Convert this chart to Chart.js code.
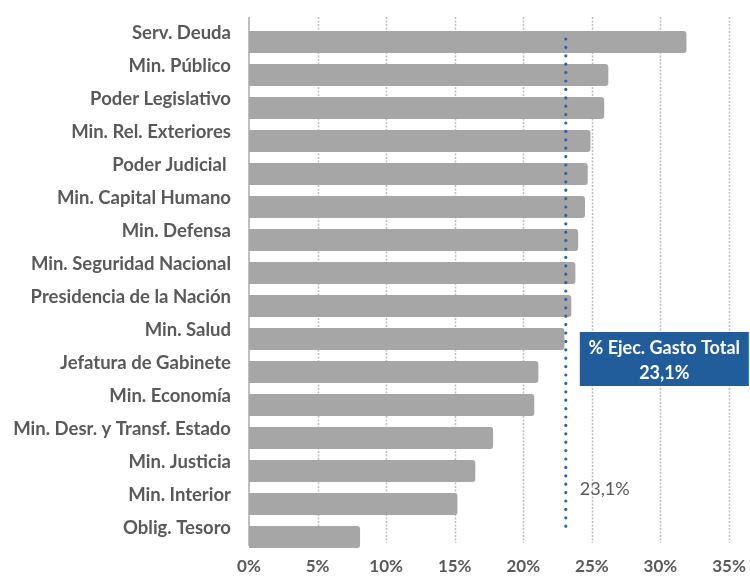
<!DOCTYPE html>
<html>
<head>
<meta charset="utf-8">
<script src="https://cdn.jsdelivr.net/npm/chart.js@4"></script>
<style>
html,body{margin:0;padding:0;background:#fff;}
#wrap{width:750px;height:579px;position:relative;}
</style>
</head>
<body>
<div id="wrap"><canvas id="c" width="750" height="579"></canvas></div>
<script>
const categories = [
  "Serv. Deuda","Min. Público","Poder Legislativo","Min. Rel. Exteriores","Poder Judicial ",
  "Min. Capital Humano","Min. Defensa","Min. Seguridad Nacional","Presidencia de la Nación",
  "Min. Salud","Jefatura de Gabinete","Min. Economía","Min. Desr. y Transf. Estado",
  "Min. Justicia","Min. Interior","Oblig. Tesoro"
];
const ejecucion = [31.9,26.2,25.9,24.9,24.7,24.5,24.0,23.8,23.5,23.0,21.1,20.8,17.8,16.5,15.2,8.1];
const totalEjec = 23.1;
const totalLabel = "23,1%";
const boxLines = ["% Ejec. Gasto Total","23,1%"];
const xTicks = [0,5,10,15,20,25,30,35];

const FONT = "Lato, 'Open Sans', sans-serif";

const gridPlugin = {
  id: 'gridDraw',
  beforeDatasetsDraw(chart) {
    const ctx = chart.ctx;
    const xs = chart.scales.x;
    ctx.save();
    ctx.strokeStyle = '#bdbdbd';
    ctx.lineWidth = 1.5;
    ctx.setLineDash([2, 1.5]);
    xs.ticks.forEach(t => {
      if (t.value === 0) return;
      const px = Math.round(xs.getPixelForValue(t.value)) + 0.5;
      ctx.beginPath();
      ctx.moveTo(px, 17);
      ctx.lineTo(px, 543);
      ctx.stroke();
    });
    ctx.setLineDash([]);
    ctx.strokeStyle = '#bfbfbf';
    ctx.lineWidth = 2;
    const x0 = xs.getPixelForValue(0);
    ctx.beginPath();
    ctx.moveTo(x0, 17);
    ctx.lineTo(x0, 546);
    ctx.stroke();
    ctx.restore();
  }
};

const refPlugin = {
  id: 'refLine',
  afterDatasetsDraw(chart) {
    const ctx = chart.ctx;
    const x = chart.scales.x.getPixelForValue(totalEjec);
    ctx.save();
    ctx.strokeStyle = '#2e62a6';
    ctx.lineWidth = 3.2;
    ctx.lineCap = 'round';
    ctx.setLineDash([0, 8.4]);
    ctx.beginPath();
    ctx.moveTo(x, 39);
    ctx.lineTo(x, 531);
    ctx.stroke();
    ctx.setLineDash([]);
    ctx.fillStyle = '#595959';
    ctx.font = "18px " + FONT;
    ctx.textAlign = 'left';
    ctx.textBaseline = 'middle';
    ctx.fillText(totalLabel, x + 14, 489);
    ctx.fillStyle = '#215d9b';
    ctx.fillRect(x + 14, 332, 169, 54);
    ctx.fillStyle = '#ffffff';
    ctx.font = "bold 18px " + FONT;
    ctx.textAlign = 'center';
    const cx = x + 14 + 169 / 2;
    ctx.fillText(boxLines[0], cx, 348);
    ctx.fillText(boxLines[1], cx, 373);
    ctx.restore();
  }
};

new Chart(document.getElementById('c'), {
  type: 'bar',
  data: {
    labels: categories,
    datasets: [{
      data: ejecucion,
      backgroundColor: '#a6a6a6',
      borderRadius: {topRight: 3, bottomRight: 3, topLeft: 0, bottomLeft: 0},
      borderSkipped: 'start',
      barPercentage: 0.67,
      categoryPercentage: 1.0
    }]
  },
  options: {
    indexAxis: 'y',
    responsive: false,
    animation: false,
    layout: {padding: {left: 0, right: 21, top: 25.5, bottom: 0}},
    plugins: {legend: {display: false}, tooltip: {enabled: false}},
    scales: {
      x: {
        min: 0, max: 35,
        afterBuildTicks(scale) { scale.ticks = xTicks.map(v => ({value: v})); },
        grid: {display: false, drawTicks: false},
        border: {display: false},
        ticks: {
          callback: (v) => v + '%',
          color: '#595959',
          font: {family: FONT, size: 17, weight: 'bold'},
          padding: 3,
          maxRotation: 0
        },
        afterFit(scale) { scale.height = 25.5; scale.paddingLeft = 0; scale.paddingRight = 0; }
      },
      y: {
        grid: {display: false, drawTicks: false},
        border: {display: false},
        ticks: {
          color: '#595959',
          font: {family: FONT, size: 18.5, weight: 'bold'},
          padding: 18,
          labelOffset: -8.5,
          autoSkip: false
        },
        afterFit(scale) { scale.width = 249; scale.paddingTop = 0; scale.paddingBottom = 0; }
      }
    }
  },
  plugins: [gridPlugin, refPlugin]
});
</script>
</body>
</html>
